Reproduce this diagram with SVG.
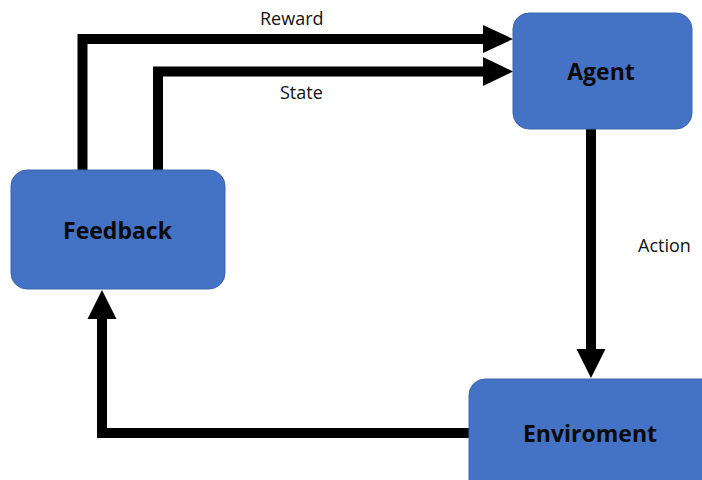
<svg xmlns="http://www.w3.org/2000/svg" width="702" height="480" viewBox="0 0 702 480">
<defs>
<style>
.box{fill:#4472C4;stroke:#3B64AD;stroke-width:1}
.nl{font-family:"Open Sans","Liberation Sans",sans-serif;font-weight:bold;font-size:23px;fill:#0a0a0a;text-anchor:middle}
.el{font-family:"Open Sans","Liberation Sans",sans-serif;font-size:18px;fill:#111}
.ln{fill:none;stroke:#000;stroke-width:10;stroke-linejoin:miter}
.ah{fill:#000}
</style>
</defs>
<rect width="702" height="480" fill="#fff"/>
<g id="connectors">
<path class="ln" d="M82.5,170 V39 H485"/>
<polygon class="ah" points="483,25 513,39 483,53"/>
<path class="ln" d="M158,170 V71.5 H485"/>
<polygon class="ah" points="483,57 513,71.5 483,86"/>
<path class="ln" d="M591,129 V351"/>
<polygon class="ah" points="576.5,349 605.5,349 591,378"/>
<path class="ln" d="M469,433 H102 V317"/>
<polygon class="ah" points="87.5,319 116.5,319 102,290"/>
<text class="el" x="260" y="25">Reward</text>
<text class="el" x="280" y="99">State</text>
<text class="el" x="638" y="252">Action</text>
</g>
<g id="agent">
<rect class="box" x="513" y="13" width="179" height="116" rx="16"/>
<text class="nl" x="601" y="80">Agent</text>
</g>
<g id="feedback">
<rect class="box" x="11" y="170" width="214" height="119" rx="16"/>
<text class="nl" x="117.5" y="239">Feedback</text>
</g>
<g id="enviroment">
<rect class="box" x="469" y="379" width="250" height="120" rx="16"/>
<text class="nl" x="590" y="442">Enviroment</text>
</g>
</svg>
